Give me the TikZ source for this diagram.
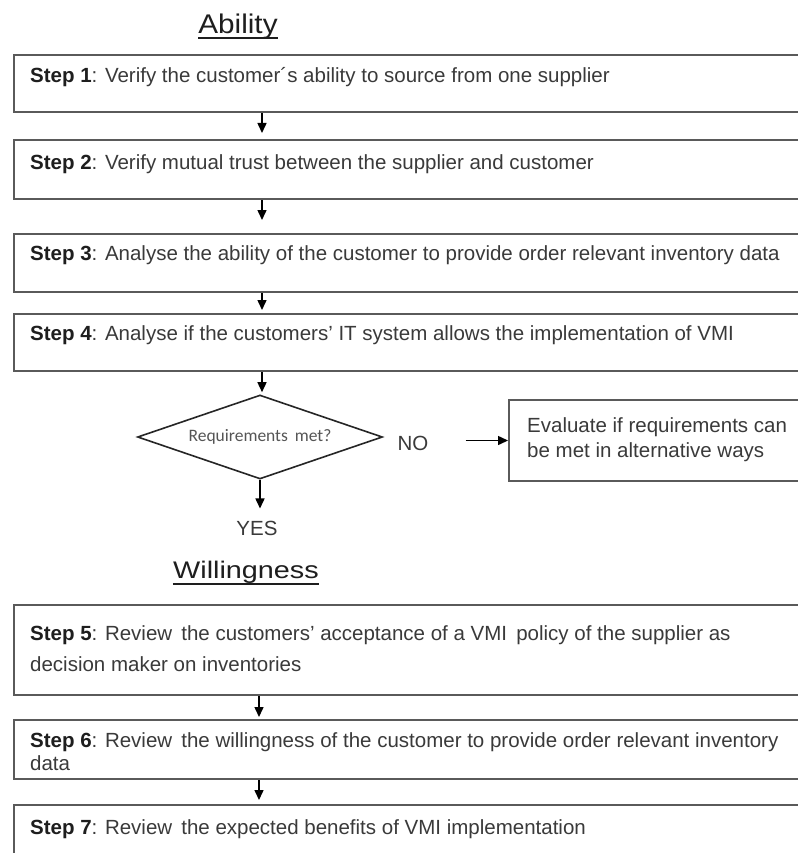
\documentclass[tikz,border=0pt]{standalone}
\usepackage{fontspec}
\setmainfont{Liberation Sans}
\newfontfamily\diafont{Carlito}
\newfontfamily\abfont[FakeStretch=1.1]{Liberation Sans}
\newfontfamily\wifont[FakeStretch=1.2]{Liberation Sans}
\usetikzlibrary{shapes.geometric,arrows.meta}
\definecolor{boxline}{HTML}{5A5A5A}
\definecolor{txt}{HTML}{3A3A3A}
\definecolor{boldtxt}{HTML}{1E1E1E}
\definecolor{diatxt}{HTML}{555555}
\newcommand{\apos}{\char"0027\relax}
\begin{document}
\begin{tikzpicture}[x=1pt,y=-1pt,
 stepbox/.style={draw=boxline,line width=2.2pt,rectangle,anchor=north west,minimum width=800pt,inner sep=0pt},
 steptext/.style={anchor=base west,inner sep=0pt,text=txt,font=\fontsize{20.5}{24}\selectfont},
 plaintext/.style={anchor=base,inner sep=0pt,text=txt,font=\fontsize{20.5}{24}\selectfont},
 titletext/.style={anchor=base,inner sep=0pt,text=boldtxt},
 uline/.style={line width=1.8pt,draw=boldtxt},
 arr/.style={draw=black,line width=1.5pt,-{Triangle[length=10pt,width=9pt]}},
 decision/.style={diamond,aspect=2.917,draw=black!85,line width=1.6pt,minimum width=245pt,minimum height=84pt,inner sep=0pt,text=diatxt,font=\diafont\fontsize{17.5}{20}\selectfont},
 ]
\useasboundingbox[fill=white] (0,0) rectangle (797,853);
\coordinate (ax) at (262,0);
\coordinate (bx) at (259,0);

% Ability section
\node[titletext,font=\abfont\fontsize{27}{30}\selectfont] (abl) at (238,34) {Ability};
\draw[uline] ([yshift=-4pt]abl.base west) -- ([yshift=-4pt]abl.base east);

\node[stepbox,minimum height=57pt] (b1) at (13,54) {};
\node[steptext] (t1) at (30,83) {\textbf{\color{boldtxt}Step 1}: Verify the customer´s ability to source from one supplier};

\node[stepbox,minimum height=59pt] (b2) at (13,139) {};
\node[steptext] (t2) at (30,170) {\textbf{\color{boldtxt}Step 2}: Verify mutual trust between the supplier and customer};

\node[stepbox,minimum height=58pt] (b3) at (13,233) {};
\node[steptext] (t3) at (30,260) {\textbf{\color{boldtxt}Step 3}: Analyse the ability of the customer to provide order relevant inventory data};

\node[stepbox,minimum height=57pt] (b4) at (13,313) {};
\node[steptext] (t4) at (30,340) {\textbf{\color{boldtxt}Step 4}: Analyse if the customers\apos{} IT system allows the implementation of VMI};

\node[decision] (dia) at (260,437) {Requirements\, met?};
\node[plaintext] (no) at (413,450) {NO};
\node[stepbox,draw=boxline,line width=2pt,minimum width=300pt,minimum height=81pt] (ev) at (508,399) {};
\node[steptext] (e1) at (527,432) {Evaluate if requirements can};
\node[steptext] (e2) at (527,457) {be met in alternative ways};
\node[plaintext] (yes) at (257,535) {YES};

% Willingness section
\node[titletext,font=\wifont\fontsize{24}{28}\selectfont] (wil) at (246,578) {Willingness};
\draw[uline] ([yshift=-6pt]wil.base west) -- ([yshift=-6pt]wil.base east);

\node[stepbox,minimum height=90pt] (b5) at (13,604) {};
\node[steptext] (t5a) at (30,640) {\textbf{\color{boldtxt}Step 5}: Review\, the customers\apos{} acceptance of a VMI\, policy of the supplier as};
\node[steptext] (t5b) at (30,671) {decision maker on inventories};

\node[stepbox,minimum height=59pt] (b6) at (13,719) {};
\node[steptext] (t6a) at (30,747) {\textbf{\color{boldtxt}Step 6}: Review\, the willingness of the customer to provide order relevant inventory};
\node[steptext] (t6b) at (30,770) {data};

\node[stepbox,minimum height=60pt] (b7) at (13,804) {};
\node[steptext] (t7) at (30,834) {\textbf{\color{boldtxt}Step 7}: Review\, the expected benefits of VMI implementation};

% connectors
\draw[arr] (ax |- b1.south) -- ([yshift=6pt]ax |- b2.north);
\draw[arr] (ax |- b2.south) -- ([yshift=13pt]ax |- b3.north);
\draw[arr] (ax |- b3.south) -- ([yshift=3pt]ax |- b4.north);
\draw[arr] (ax |- b4.south) -- ([yshift=2pt]ax |- dia.north);
\draw[arr] (dia.south) -- ([yshift=12pt]dia.south |- yes.north);
\draw[arr,shorten <=37pt] (no.east |- ev.west) -- (ev.west);
\draw[arr] (bx |- b5.south) -- ([yshift=2pt]bx |- b6.north);
\draw[arr] (bx |- b6.south) -- ([yshift=4pt]bx |- b7.north);
\end{tikzpicture}
\end{document}
